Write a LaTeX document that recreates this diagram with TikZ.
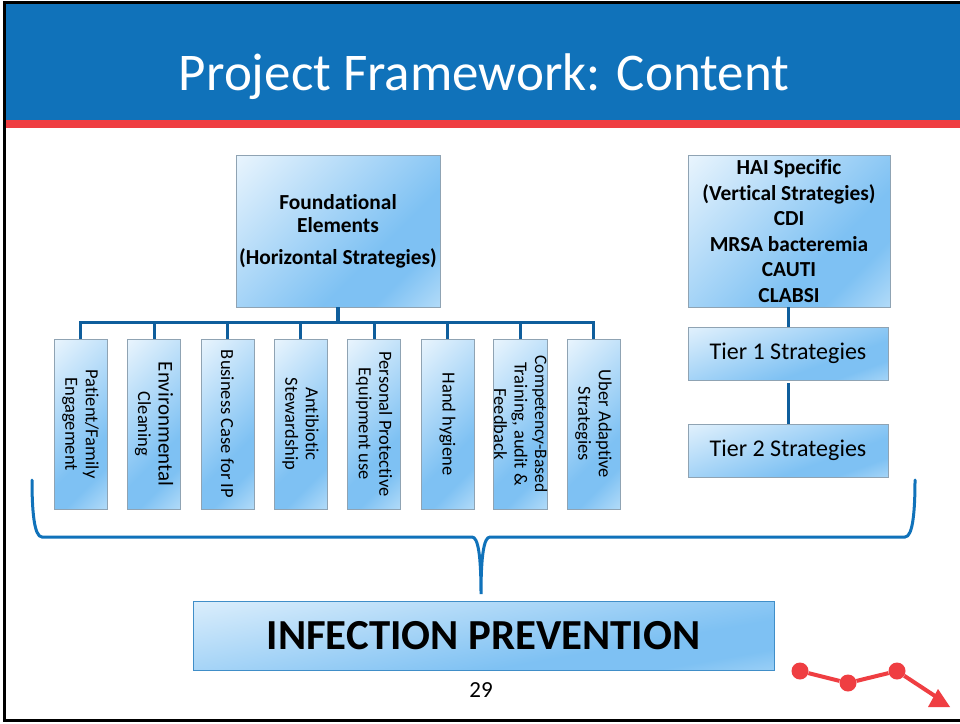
\documentclass[tikz,border=0pt]{standalone}
\usepackage{fontspec}
\setmainfont[RawFeature={-liga}]{Carlito}
\usetikzlibrary{positioning}
\definecolor{headblue}{HTML}{1072BA}
\definecolor{headred}{HTML}{EF3E42}
\definecolor{treeblue}{HTML}{0F5E9C}
\definecolor{boxedge}{HTML}{8FA3B3}
\definecolor{shadepale}{HTML}{E8F4FD}
\definecolor{shademid}{HTML}{7EC1F3}
\definecolor{shadeend}{HTML}{B0DAF8}
\pgfdeclarehorizontalshading{boxshade}{100bp}{color(0bp)=(shadepale);
  color(15bp)=(shadepale);
  color(62bp)=(shademid);
  color(72bp)=(shademid);
  color(85bp)=(shadeend);
  color(100bp)=(shadeend)}
\tikzset{
  fbox/.style={draw=boxedge,line width=0.8pt,shading=boxshade,shading angle=-45,
    align=center,inner sep=0pt,font=\fontsize{21.4}{25.5}\selectfont\bfseries},
  sidebox/.style={fbox,shading angle=-70,minimum width=#1,minimum height=53pt,font=\fontsize{24}{27}\selectfont\mdseries},
  stratbox/.style={fbox,rotate=-90,minimum width=170pt,minimum height=53pt,
    font=\fontsize{18.5}{20.5}\selectfont\mdseries},
  tree/.style={draw=treeblue,line width=3pt},
  brace/.style={draw=headblue,line width=3pt,line cap=round},
  trend/.style={draw=headred,line width=4pt},
  dot/.style={circle,fill=headred,inner sep=0pt,minimum size=#1}
}
\begin{document}
\begin{tikzpicture}[x=1pt,y=-1pt]
  \useasboundingbox (0,0) rectangle (960,723);
  \fill[white] (0,0) rectangle (960,723);
  % header
  \fill[headblue] (4,3) rectangle (960,121);
  \fill[headred] (4,120) rectangle (960,128);
  \draw[black,line width=3pt] (960,2.5) -- (4.5,2.5) -- (4.5,720) -- (960,720);
  \node[text=white,font=\fontsize{53}{60}\selectfont] (title) at (484,77) {Project Framework: Content};

  % left tree
  \node[fbox,minimum width=204pt,minimum height=152pt] (found) at (338,231) {};
  \node (foundtxt) at (338,214) [align=center,inner sep=0pt,font=\fontsize{21.4}{23}\selectfont\bfseries] {Foundational\\Elements};
  \node (horiz) at (338,258) [inner sep=0pt,font=\fontsize{21.4}{23}\selectfont\bfseries] {(Horizontal Strategies)};
  \coordinate (bus) at (337.5,322);
  \draw[tree,line width=4pt] (found.south -| bus) -- (bus);
  \foreach \name/\x/\txt in {
    patient/80.5/{Patient/Family\\Engagement},
    envir/154/{\fontsize{21}{23}\selectfont Environmental\\Cleaning},
    business/227.5/{Business Case for IP},
    antibio/300.5/{Antibiotic\\Stewardship},
    ppe/374/{Personal Protective\\Equipment use},
    hand/447.5/{Hand hygiene},
    compet/520.5/{\fontsize{17.5}{18.5}\selectfont Competency-Based\\Training, audit \&\\Feedback},
    uber/593.5/{Uber Adaptive\\Strategies}}{
    \node[stratbox] (\name) at (\x,424) {\txt};
    \draw[tree] (bus) -| (\name.west);
  }

  % right column
  \node[fbox,minimum width=202pt,minimum height=152pt] (hai) at (789,231) {HAI Specific\\(Vertical Strategies)\\CDI\\MRSA bacteremia\\CAUTI\\CLABSI};
  \node[sidebox=200pt] (tierone) at (788,353.5) {\raisebox{-1.5pt}{Tier 1 Strategies}};
  \node[sidebox=200pt] (tiertwo) at (788,450.5) {\raisebox{-1.5pt}{Tier 2 Strategies}};
  \draw[tree] (tierone.north) -- (tierone.north |- hai.south);
  \draw[tree] (tierone.south) ++(0,3) -- (tiertwo.north);

  % brace and result
  \node[fbox,draw=headblue!80,shading angle=-80,minimum width=581pt,minimum height=69pt,
    font=\fontsize{42.8}{46}\selectfont\bfseries] (result) at (483.5,635.5) {\raisebox{-1pt}{INFECTION PREVENTION}};
  \node[inner sep=0pt,font=\fontsize{23}{25}\selectfont] (page) at (481,690) {29};
  \coordinate (bleft) at (32,480);
  \coordinate (bright) at (915,480);
  \coordinate (btip) at (481,594);
  \draw[brace] (bleft) .. controls (32,510) and (34,537) .. (42,537) -- (472,537)
    .. controls (478,537) and (481,555) .. (btip)
    .. controls (481,555) and (484,537) .. (490,537) -- (905,537)
    .. controls (913,537) and (915,510) .. (bright);

  % trend arrow
  \node[dot=17pt] (ptone) at (800,671) {};
  \node[dot=17pt] (pttwo) at (848,683) {};
  \node[dot=17pt] (ptthree) at (897,671) {};
  \coordinate (ptend) at (938,698);
  \draw[trend] (ptone) -- (pttwo) -- (ptthree) -- (ptend);
  \fill[headred] (938,689) -- (950,707) -- (928,707) -- cycle;
\end{tikzpicture}
\end{document}
